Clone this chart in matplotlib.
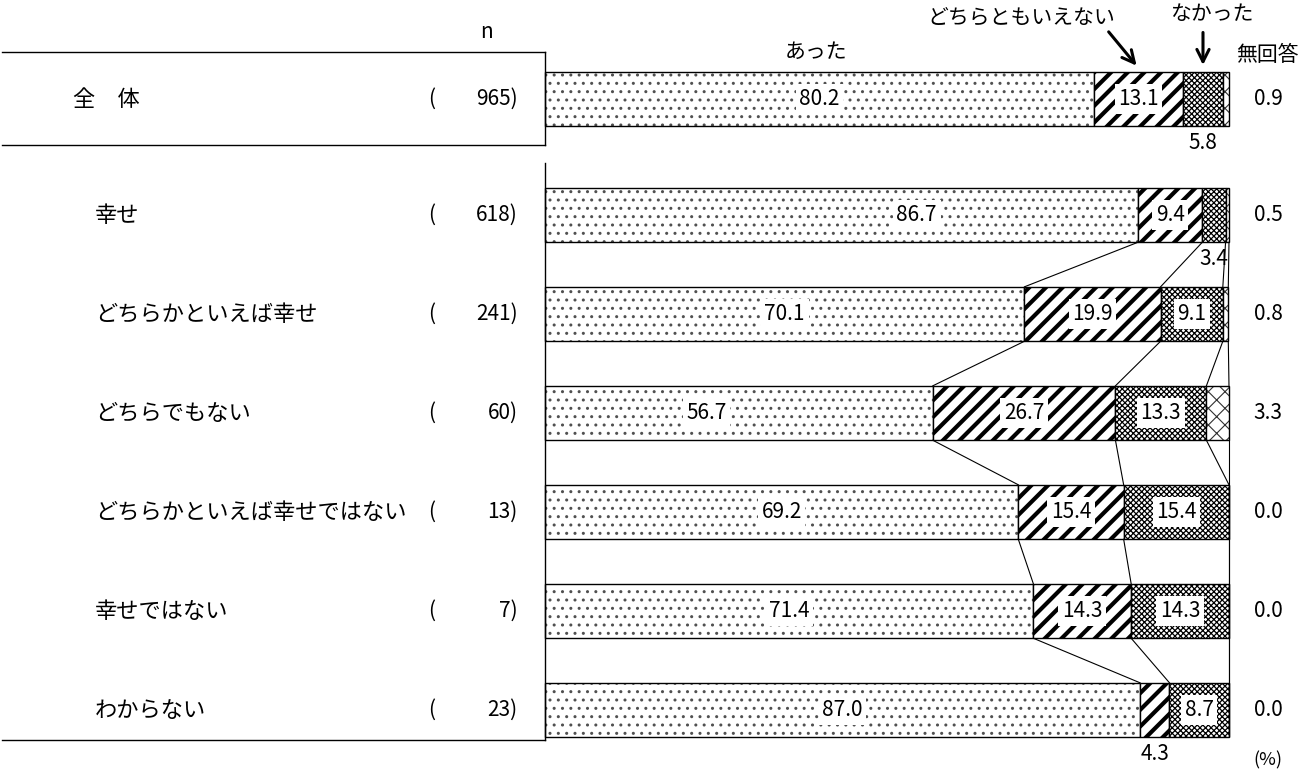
import matplotlib
matplotlib.use('Agg')
import matplotlib.pyplot as plt
import numpy as np

plt.rcParams['font.family'] = ['Noto Sans CJK JP', 'DejaVu Sans']

# data (%)
groups = ['全　体', '幸せ', 'どちらかといえば幸せ', 'どちらでもない',
          'どちらかといえば幸せではない', '幸せではない', 'わからない']
n_counts = [965, 618, 241, 60, 13, 7, 23]
atta = [80.2, 86.7, 70.1, 56.7, 69.2, 71.4, 87.0]
neutral = [13.1, 9.4, 19.9, 26.7, 15.4, 14.3, 4.3]
nakatta = [5.8, 3.4, 9.1, 13.3, 15.4, 14.3, 8.7]
no_answer = [0.9, 0.5, 0.8, 3.3, 0.0, 0.0, 0.0]

series = [atta, neutral, nakatta, no_answer]
series_names = ['あった', 'どちらともいえない', 'なかった', '無回答']
hatches = ['..', '//', 'xxxxxx', 'xx']
hatch_colors = ['#505050', 'black', 'black', '#303030']
hatch_lw = [1.0, 3.0, 0.9, 0.8]
# small shift of some value labels (percent units), as in the original
label_shift = [0, 11, 0, -4.7, 0, 0, 0]

row_y = np.array([0, 1.172, 2.172, 3.172, 4.172, 5.172, 6.172])
bar_h = 0.55
fs = 15

fig = plt.figure(figsize=(12.98, 7.73), dpi=100)
ax = fig.add_axes([0, 0, 1, 1])
ax.set_xlim(-79.68, 110.09)
ax.set_ylim(6.808, -1)
ax.axis('off')

data = np.array(series)
lefts = np.vstack([np.zeros(len(groups)), np.cumsum(data, axis=0)[:-1]])

for k in range(4):
    with plt.rc_context({'hatch.linewidth': hatch_lw[k]}):
        bars = ax.barh(row_y, data[k], left=lefts[k], height=bar_h,
                       color='white', edgecolor=hatch_colors[k],
                       hatch=hatches[k], linewidth=0)
    for b in bars:
        if hasattr(b, 'set_hatch_linewidth'):
            b.set_hatch_linewidth(hatch_lw[k])
    ax.barh(row_y, data[k], left=lefts[k], height=bar_h, fill=False,
            edgecolor='black', linewidth=1.0)

# value labels
box = dict(facecolor='white', edgecolor='none', pad=2.5)
for k in range(3):
    for i in range(len(groups)):
        v = data[k][i]
        cx = lefts[k][i] + v / 2
        if k == 0:
            cx += label_shift[i]
        if v >= 8:
            ax.text(cx, row_y[i], f'{v:.1f}', ha='center', va='center',
                    fontsize=fs, bbox=box)
        else:
            ax.text(cx, row_y[i] + bar_h / 2 + 0.06, f'{v:.1f}', ha='center',
                    va='top', fontsize=fs)

for i in range(len(groups)):
    ax.text(105.7, row_y[i], f'{no_answer[i]:.1f}', ha='center', va='center',
            fontsize=fs)

# connecting lines between the sub-group bars
cum = np.cumsum(data, axis=0)
for i in range(1, len(groups) - 1):
    for k in range(4):
        ax.plot([min(cum[k][i], 100), min(cum[k][i + 1], 100)],
                [row_y[i] + bar_h / 2, row_y[i + 1] - bar_h / 2],
                color='black', linewidth=0.8)

# left-hand labels
for i in range(len(groups)):
    x0 = -69.0 if i == 0 else -65.8
    ax.text(x0, row_y[i], groups[i], ha='left', va='center', fontsize=16)
    ax.text(-17.1, row_y[i], '(', ha='left', va='center', fontsize=fs)
    ax.text(-4.0, row_y[i], f'{n_counts[i]})', ha='right', va='center',
            fontsize=fs)
ax.text(-8.5, -0.677, 'n', ha='center', va='center', fontsize=fs)

# frame lines
lc = dict(color='black', linewidth=1.0)
ax.plot([-79.4, 0], [-0.475, -0.475], **lc)
ax.plot([-79.4, 0], [0.465, 0.465], **lc)
ax.plot([0, 0], [-0.475, 0.465], **lc)
ax.plot([0, 0], [0.646, 6.475], **lc)
ax.plot([-79.4, 0], [6.475, 6.475], **lc)

# series legend above the total bar
ax.text(39.6, -0.475, series_names[0], ha='center', va='center', fontsize=fs)
tip_y = row_y[0] - bar_h / 2 - 0.04
tip1 = lefts[1][0] + data[1][0] / 2
ax.text(69.7, -0.818, series_names[1], ha='center', va='center', fontsize=fs)
ax.annotate('', xy=(tip1, tip_y), xytext=(tip1 - 4.6, -0.70),
            arrowprops=dict(arrowstyle='->', color='black', lw=2.2,
                            mutation_scale=22))
tip2 = lefts[2][0] + data[2][0] / 2
ax.text(97.5, -0.859, series_names[2], ha='center', va='center', fontsize=fs)
ax.annotate('', xy=(tip2, tip_y), xytext=(tip2, -0.70),
            arrowprops=dict(arrowstyle='->', color='black', lw=2.2,
                            mutation_scale=22))
ax.text(105.6, -0.444, series_names[3], ha='center', va='center', fontsize=fs)
ax.text(105.7, 6.677, '(%)', ha='center', va='center', fontsize=13)

fig.savefig('out.png', dpi=100)
